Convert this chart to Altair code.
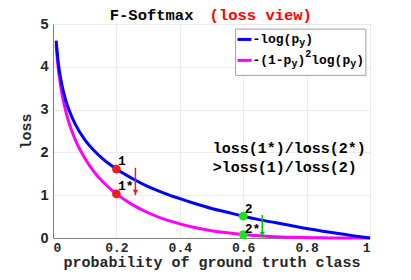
import altair as alt
import pandas as pd

# ---- data ----
p_vals = [0.01, 0.015, 0.02, 0.03, 0.04, 0.05, 0.07, 0.1, 0.13, 0.16, 0.2, 0.25, 0.3,
          0.35, 0.4, 0.45, 0.5, 0.55, 0.6, 0.65, 0.7, 0.75, 0.8, 0.85, 0.9, 0.95, 1.0]
ce_loss = [4.61, 4.20, 3.91, 3.51, 3.22, 3.00, 2.66, 2.30, 2.04, 1.83, 1.61, 1.39, 1.20,
           1.05, 0.92, 0.80, 0.69, 0.60, 0.51, 0.43, 0.36, 0.29, 0.22, 0.16, 0.105, 0.05, 0.0]
focal_loss = [4.51, 4.07, 3.76, 3.30, 2.97, 2.70, 2.30, 1.87, 1.54, 1.29, 1.03, 0.78, 0.59,
              0.44, 0.33, 0.24, 0.17, 0.12, 0.08, 0.05, 0.03, 0.018, 0.009, 0.004, 0.001, 0.0, 0.0]

pt_x = [0.2, 0.2, 0.6, 0.6]
pt_y = [1.61, 1.03, 0.51, 0.08]
pt_color = ["#e81f1f", "#e81f1f", "#19e619", "#19e619"]
pt_label = ["1", "1*", "2", "2*"]
lab_x = [0.205, 0.205, 0.605, 0.605]
lab_y = [1.80, 1.21, 0.68, 0.22]

arrow_x = [0.26, 0.66]
arrow_top = [1.64, 0.54]
arrow_tip = [1.00, 0.02]
arrow_color = ["#e81f1f", "#00c800"]

note_lines = ["loss(1*)/loss(2*)", ">loss(1)/loss(2)"]
note_y = [2.10, 1.67]

MONO = "Liberation Mono"
W, H = 317, 214

curves = pd.DataFrame({"p": p_vals, "ce": ce_loss, "fl": focal_loss})

xs = alt.Scale(domain=[0, 1])
ys = alt.Scale(domain=[0, 5])

base = alt.Chart(curves)

x_axis = alt.Axis(values=[0, 0.2, 0.4, 0.6, 0.8, 1], format="~g", ticks=False,
                  labelFont=MONO, labelFontSize=13, labelFontWeight="bold",
                  labelColor="#262626", labelPadding=3,
                  title="probability of ground truth class", titleFont=MONO,
                  titleFontSize=15, titleFontWeight="bold", titleColor="#262626",
                  titlePadding=0, gridColor="#ebebeb", domainColor="#808080")
y_axis = alt.Axis(values=[0, 1, 2, 3, 4, 5], ticks=False,
                  labelFont="Liberation Sans", labelFontSize=14.5, labelFontWeight="bold",
                  labelColor="#262626", labelPadding=5,
                  title="loss", titleFont=MONO, titleFontSize=15, titleFontWeight="bold",
                  titleColor="#262626", titlePadding=6, gridColor="#ebebeb",
                  domainColor="#808080")

fl_line = base.mark_line(color="#ff00ff", strokeWidth=3, interpolate="monotone").encode(
    x=alt.X("p:Q", scale=xs, axis=x_axis), y=alt.Y("fl:Q", scale=ys, axis=y_axis))
ce_line = base.mark_line(color="#0000ff", strokeWidth=3, interpolate="monotone").encode(
    x=alt.X("p:Q", scale=xs), y=alt.Y("ce:Q", scale=ys))

pts = pd.DataFrame({"x": pt_x, "y": pt_y, "c": pt_color})
points = alt.Chart(pts).mark_circle(size=75, opacity=1).encode(
    x=alt.X("x:Q", scale=xs), y=alt.Y("y:Q", scale=ys), color=alt.Color("c:N", scale=None))

labs = pd.DataFrame({"x": lab_x, "y": lab_y, "t": pt_label})
labels = alt.Chart(labs).mark_text(font=MONO, fontSize=13, fontWeight="bold", align="left",
                                   baseline="middle", color="black").encode(
    x=alt.X("x:Q", scale=xs), y=alt.Y("y:Q", scale=ys), text="t:N")

arr = pd.DataFrame({"x": arrow_x, "y1": arrow_top, "y2": arrow_tip, "c": arrow_color})
arrow_shaft = alt.Chart(arr).mark_rule(strokeWidth=1.5).encode(
    x=alt.X("x:Q", scale=xs), y=alt.Y("y1:Q", scale=ys), y2="y2:Q",
    color=alt.Color("c:N", scale=None))
arrow_head = alt.Chart(arr).mark_point(shape="triangle-down", filled=True, size=30,
                                       yOffset=-3, opacity=1).encode(
    x=alt.X("x:Q", scale=xs), y=alt.Y("y2:Q", scale=ys), color=alt.Color("c:N", scale=None))

notes = pd.DataFrame({"x": [0.504, 0.504], "y": note_y, "t": note_lines})
note_text = alt.Chart(notes).mark_text(font=MONO, fontSize=15, fontWeight="bold", align="left",
                                       baseline="middle", color="black").encode(
    x=alt.X("x:Q", scale=xs), y=alt.Y("y:Q", scale=ys), text="t:N")

# title (two colours) in data coordinates above the plot
ttl = pd.DataFrame({"x": [0.179, 0.494], "y": [5.205, 5.205], "t": ["F-Softmax", "(loss view)"],
                    "c": ["black", "#ff0000"]})
title_text = alt.Chart(ttl).mark_text(font=MONO, fontSize=15.5, fontWeight="bold", align="left",
                                      baseline="middle").encode(
    x=alt.X("x:Q", scale=xs), y=alt.Y("y:Q", scale=ys), text="t:N",
    color=alt.Color("c:N", scale=None))

# legend box
leg_box = alt.Chart(pd.DataFrame({"x": [0.576], "x2": [0.987], "y": [4.88], "y2": [3.80]})).mark_rect(
    fill="white", stroke="#a0a0a0", strokeWidth=1).encode(
    x=alt.X("x:Q", scale=xs), x2="x2:Q", y=alt.Y("y:Q", scale=ys), y2="y2:Q")
leg_rows_y = [4.64, 4.15]
leg_colors = ["#0000ff", "#ff00ff"]
leg_lines = alt.Chart(pd.DataFrame({"x": [0.582, 0.582], "x2": [0.626, 0.626],
                                    "y": leg_rows_y, "c": leg_colors})).mark_rule(strokeWidth=3).encode(
    x=alt.X("x:Q", scale=xs), x2="x2:Q", y=alt.Y("y:Q", scale=ys), color=alt.Color("c:N", scale=None))

leg_rows = [
    [("-log(p", 0), ("y", 1), (")", 0)],
    [("-(1-p", 0), ("y", 1), (")", 0), ("2", -1), ("log(p", 0), ("y", 1), (")", 0)],
]
MAIN, SMALL = 13, 10
leg_layers = []
for row, yv in zip(leg_rows, leg_rows_y):
    off = 0.0
    for txt, kind in row:
        fs = MAIN if kind == 0 else SMALL
        dy = {0: 0, 1: 4, -1: -6}[kind]
        leg_layers.append(
            alt.Chart(pd.DataFrame({"x": [0.629], "y": [yv], "t": [txt]})).mark_text(
                font=MONO, fontSize=fs, fontWeight="bold", align="left", baseline="middle",
                color="black", dx=off, dy=dy).encode(
                x=alt.X("x:Q", scale=xs), y=alt.Y("y:Q", scale=ys), text="t:N"))
        off += 0.6 * fs * len(txt)

chart = alt.layer(fl_line, ce_line, arrow_shaft, arrow_head, points, labels, note_text,
                  title_text, leg_box, leg_lines, *leg_layers).properties(
    width=W, height=H, autosize=alt.AutoSizeParams(type="none"),
    padding={"left": 45, "top": 16, "right": 32, "bottom": 34},
    background="white",
).configure_view(stroke="#808080", strokeWidth=1)

chart.save("out.html", embed_options={"renderer": "svg", "actions": False})
